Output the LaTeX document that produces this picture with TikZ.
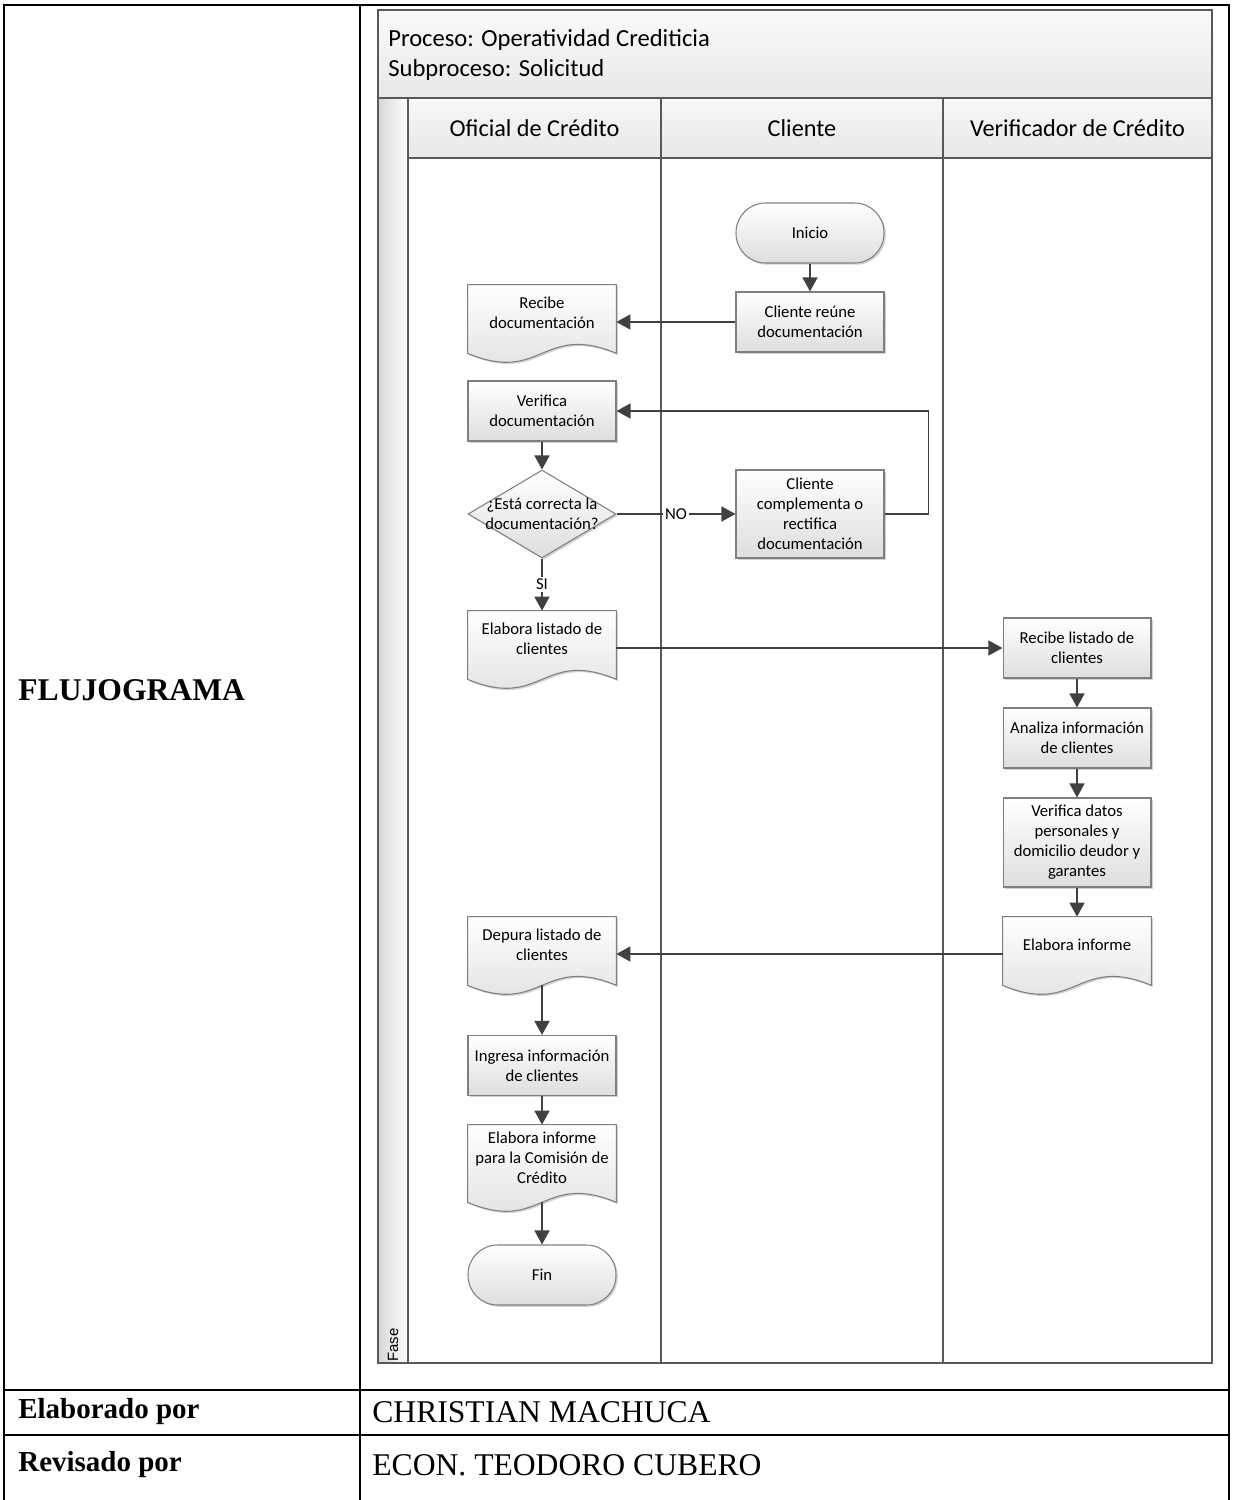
\documentclass[tikz,border=0pt]{standalone}
\usepackage{fontspec}
\setmainfont{Liberation Serif}
\newfontfamily\calibri{Carlito}
\newfontfamily\arialfont{Liberation Sans}
\usetikzlibrary{shapes.geometric, arrows.meta, positioning, calc, backgrounds, shadows}
\definecolor{linegray}{HTML}{404040}
\definecolor{bordergray}{HTML}{7F7F7F}
\definecolor{poolgray}{HTML}{595959}

\begin{document}
\begin{tikzpicture}[x=0.02cm, y=-0.02cm,
    shapetext/.style={align=center, font=\calibri\fontsize{9.5}{11.4}\selectfont, text=black},
    shade/.style={draw=bordergray, line width=0.6pt, top color=white, bottom color=black!13,
                  drop shadow={shadow xshift=1pt, shadow yshift=-1pt, fill=black!35, opacity=0.5}},
    proc/.style={rectangle, shade, shapetext, minimum width=2.96cm, minimum height=1.2cm, inner sep=1pt},
    term/.style={rectangle, rounded corners=0.59cm, shade, shapetext, minimum width=2.96cm, minimum height=1.2cm},
    decision/.style={diamond, shade, shapetext, minimum width=2.96cm, minimum height=1.76cm,
                     inner xsep=-0.35cm, inner ysep=-0.25cm},
    docnode/.style={rectangle, shapetext, minimum width=2.96cm, minimum height=1.12cm, inner sep=1pt},
    lanehead/.style={rectangle, draw=poolgray, line width=0.8pt, top color=black!3, bottom color=black!9,
                     minimum height=1.2cm, font=\calibri\fontsize{13.8}{16}\selectfont},
    arr/.style={-{Triangle[length=8pt, width=8.5pt]}, draw=linegray, line width=1.1pt},
    flowlabel/.style={fill=white, inner sep=1pt, font=\calibri\fontsize{9.5}{11.4}\selectfont},
    tabline/.style={draw=black, line width=1.1pt},
    tabbold/.style={anchor=west, inner sep=0pt, font=\bfseries\fontsize{16.5}{20}\selectfont},
    tabtext/.style={anchor=west, inner sep=0pt, font=\fontsize{18}{22}\selectfont}
]
\useasboundingbox (0,0) rectangle (1235,1500);

% outer table
\draw[tabline] (4,1500) -- (4,5) -- (1229,5) -- (1229,1500);
\draw[tabline] (360,5) -- (360,1500);
\draw[tabline] (4,1390) -- (1229,1390);
\draw[tabline] (4,1435) -- (1229,1435);

\node[tabbold, font=\bfseries\fontsize{18}{22}\selectfont] (flujo) at (18,690) {FLUJOGRAMA};
\node[tabbold] (elab) at (18,1412) {Elaborado por};
\node[tabbold] (revi) at (18,1465) {Revisado por};
\node[tabtext] (autor) at (372,1412) {CHRISTIAN MACHUCA};
\node[tabtext] (revisor) at (372,1465) {ECON. TEODORO CUBERO};

% pool and lanes
\draw[draw=poolgray, line width=0.8pt, top color=black!2, bottom color=black!9] (378,10) rectangle (1212,98);
\node[anchor=west, align=left, inner sep=0pt, font=\calibri\fontsize{14}{17}\selectfont] (titulo) at (388,55)
    {Proceso: Operatividad Crediticia\\Subproceso: Solicitud};
\draw[draw=poolgray, line width=0.8pt, left color=black!16, right color=white] (378,98) rectangle (408,1363);
\node[rotate=90, inner sep=0pt, font=\arialfont\fontsize{8.5}{10}\selectfont] (fase) at (393,1345) {Fase};
\draw[draw=poolgray, line width=0.8pt] (408,158) rectangle (1212,1363);
\draw[draw=poolgray, line width=0.8pt] (661,158) -- (661,1363);
\draw[draw=poolgray, line width=0.8pt] (943,158) -- (943,1363);
\draw[draw=poolgray, line width=1pt] (378,10) rectangle (1212,1363);

\node[lanehead, minimum width=5.06cm] (hofi) at (534.5,128) {Oficial de Crédito};
\node[lanehead, minimum width=5.64cm] (hcli) at (802,128) {Cliente};
\node[lanehead, minimum width=5.38cm] (hver) at (1077.5,128) {Verificador de Crédito};

% Oficial de Credito
\node[docnode] (recdoc) at (542,313) {Recibe\\documentación};
\node[proc] (verdoc) at (542,411) {Verifica\\documentación};
\node[decision] (dec) at (542,514) {¿Está correcta la\\documentación?};
\node[docnode] (ellist) at (542,639) {Elabora listado de\\clientes};
\node[docnode] (depura) at (542,945) {Depura listado de\\clientes};
\node[proc] (ingresa) at (542,1065.5) {Ingresa información\\de clientes};
\node[docnode, minimum height=1.3cm] (elacom) at (542,1157.5) {Elabora informe\\para la Comisión de\\Crédito};
\node[term] (fin) at (542,1275) {Fin};

% Cliente
\node[term] (inicio) at (810,233) {Inicio};
\node[proc] (reune) at (810,322) {Cliente reúne\\documentación};
\node[proc, minimum height=1.76cm] (compl) at (810,514) {Cliente\\complementa o\\rectifica\\documentación};

% Verificador de Credito
\node[proc] (reclist) at (1077,648) {Recibe listado de\\clientes};
\node[proc] (analiza) at (1077,738) {Analiza información\\de clientes};
\node[proc, minimum height=1.78cm] (verdat) at (1077,842.5) {Verifica datos\\personales y\\domicilio deudor y\\garantes};
\node[docnode] (elainf) at (1077,945) {Elabora informe};

% document outlines with wavy bottom
\begin{scope}[on background layer]
\foreach \n in {recdoc,ellist,depura,elainf,elacom}
  \draw[shade] (\n.north west) -- (\n.north east) -- ($(\n.south east)+(0,12)$)
    .. controls +(-74,-31) and +(74,31) .. ($(\n.south west)+(0,12)$) -- cycle;
\end{scope}

% connectors
\draw[arr] (inicio) -- (reune);
\draw[arr] (reune.west) -- (reune.west -| recdoc.east);
\draw[arr] (verdoc) -- (dec);
\draw[arr] (dec.east) -- node[flowlabel] {NO} (compl.west);
\draw[arr] (compl.east) -- ++(44,0) |- (verdoc.east);
\draw[arr] (dec.south) -- node[flowlabel] {SI} (ellist.north);
\draw[arr] (ellist.east |- reclist.west) -- (reclist.west);
\draw[arr] (reclist) -- (analiza);
\draw[arr] (analiza) -- (verdat);
\draw[arr] (verdat) -- (elainf);
\draw[arr] ($(elainf.west)+(0,9)$) -- ($(depura.east)+(0,9)$);
\draw[arr] ($(depura.south)+(0,12)$) -- (ingresa);
\draw[arr] (ingresa) -- (elacom);
\draw[arr] ($(elacom.south)+(0,12)$) -- (fin);
\end{tikzpicture}
\end{document}
